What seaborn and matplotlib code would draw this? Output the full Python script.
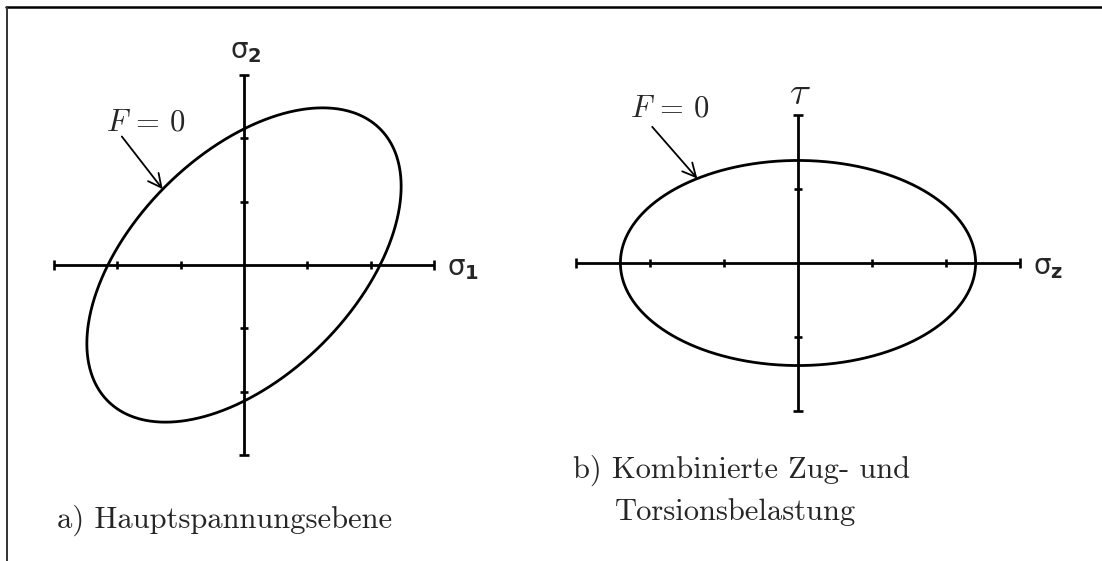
import numpy as np
import matplotlib
matplotlib.use("Agg")
import matplotlib.pyplot as plt
from matplotlib.lines import Line2D
import seaborn as sns

# Yield stress (in axis units) for the two von Mises sections
sigma_y_principal = 2.15      # sigma1^2 - sigma1*sigma2 + sigma2^2 = sY^2
sigma_y_tension = 2.40        # sigma^2 + 3*tau^2 = sY^2

# Axis extents and tick positions
a_xticks = [-2, -1, 1, 2]
a_yticks = [-2, -1, 1, 2]
a_xlim_axis = [-3, 3]
a_ylim_axis = [-3, 3]
b_xticks = [-2, -1, 1, 2]
b_yticks = [-1, 1]
b_xlim_axis = [-3, 3]
b_ylim_axis = [-2, 2]

# Labels
label_s1 = r"$\sigma_{\mathbf{1}}$"
label_s2 = r"$\sigma_{\mathbf{2}}$"
label_sz = r"$\sigma_{\mathbf{z}}$"
label_tau = r"$\tau$"
label_F = r"$F\,=\,0$"
caption_a = "a) Hauptspannungsebene"
caption_b1 = "b) Kombinierte Zug- und"
caption_b2 = "Torsionsbelastung"

sns.set_theme(style="white")
plt.rcParams["font.family"] = ["DejaVu Sans"]
plt.rcParams["mathtext.fontset"] = "custom"
plt.rcParams["mathtext.rm"] = "DejaVu Sans"
plt.rcParams["mathtext.it"] = "DejaVu Sans"
plt.rcParams["mathtext.bf"] = "DejaVu Sans:bold"

W, H = 1102, 561
fig = plt.figure(figsize=(W / 100, H / 100), dpi=100)
fig.patch.set_facecolor("white")


def make_axes(box, origin, unit):
    """Axes covering pixel box (x0, y0, x1, y1; y downward) with equal scaling."""
    x0, y0, x1, y1 = box
    ox, oy = origin
    ax = fig.add_axes([x0 / W, 1 - y1 / H, (x1 - x0) / W, (y1 - y0) / H])
    ax.set_xlim((x0 - ox) / unit, (x1 - ox) / unit)
    ax.set_ylim((oy - y1) / unit, (oy - y0) / unit)
    ax.set_axis_off()
    return ax


def draw_cross(ax, xlim, ylim, xticks, yticks):
    lw, mew = 2.0, 1.9
    ax.plot(xlim, [0, 0], color="black", lw=lw, solid_capstyle="butt")
    ax.plot([0, 0], ylim, color="black", lw=lw, solid_capstyle="butt")
    ax.plot(xticks, np.zeros(len(xticks)), ls="none", marker="|", ms=6, mew=mew, color="black")
    ax.plot(xlim, [0, 0], ls="none", marker="|", ms=7, mew=mew, color="black")
    ax.plot(np.zeros(len(yticks)), yticks, ls="none", marker="_", ms=6, mew=mew, color="black")
    ax.plot([0, 0], ylim, ls="none", marker="_", ms=7, mew=mew, color="black")


def on_curve(radius_fn, angle_deg):
    t = np.deg2rad(angle_deg)
    r = radius_fn(t)
    return r * np.cos(t), r * np.sin(t)


theta = np.linspace(0, 2 * np.pi, 721)

# ---------- a) principal stress plane ----------
ax_a = make_axes((20, 15, 530, 490), (244, 265), 63.3)
draw_cross(ax_a, a_xlim_axis, a_ylim_axis, a_xticks, a_yticks)


def r_principal(t):
    c, s = np.cos(t), np.sin(t)
    return sigma_y_principal / np.sqrt(c * c - c * s + s * s)


ra = r_principal(theta)
sns.lineplot(x=ra * np.cos(theta), y=ra * np.sin(theta), sort=False,
             estimator=None, color="black", lw=2.0, ax=ax_a)

ax_a.text(-0.22, 3.38, label_s2, fontsize=20, ha="left", va="center")
ax_a.text(3.21, -0.05, label_s1, fontsize=20, ha="left", va="center")
ax_a.text(-1.55, 2.26, label_F, fontsize=22, ha="center", va="center",
          math_fontfamily="cm")
tip_a = on_curve(r_principal, 137.0)
ax_a.annotate("", xy=tip_a, xytext=(-1.93, 2.03),
              arrowprops=dict(arrowstyle="->", color="black", lw=1.3,
                              mutation_scale=24, shrinkA=0, shrinkB=0))

# ---------- b) tension + torsion ----------
ax_b = make_axes((545, 15, 1095, 490), (798, 263), 74.0)
draw_cross(ax_b, b_xlim_axis, b_ylim_axis, b_xticks, b_yticks)


def r_tension(t):
    c, s = np.cos(t), np.sin(t)
    return sigma_y_tension / np.sqrt(c * c + 3 * s * s)


rb = r_tension(theta)
sns.lineplot(x=rb * np.cos(theta), y=rb * np.sin(theta), sort=False,
             estimator=None, color="black", lw=2.0, ax=ax_b)

ax_b.text(0.02, 2.30, label_tau, fontsize=28, ha="center", va="center",
          math_fontfamily="cm")
ax_b.text(3.18, -0.05, label_sz, fontsize=20, ha="left", va="center")
ax_b.text(-1.73, 2.10, label_F, fontsize=22, ha="center", va="center",
          math_fontfamily="cm")
tip_b = on_curve(r_tension, 140.0)
ax_b.annotate("", xy=tip_b, xytext=(-1.97, 1.84),
              arrowprops=dict(arrowstyle="->", color="black", lw=1.3,
                              mutation_scale=24, shrinkA=0, shrinkB=0))

# ---------- captions ----------
cap_kw = dict(fontsize=22, family="cmr10", ha="left", va="baseline")
fig.text(57 / W, 1 - 528 / H, caption_a, **cap_kw)
fig.text(573 / W, 1 - 478 / H, caption_b1, **cap_kw)
fig.text(615 / W, 1 - 520 / H, caption_b2, **cap_kw)

# ---------- frame (top and left rules) ----------
fig.add_artist(Line2D([6 / W, 1.0], [1 - 7 / H, 1 - 7 / H], color="black",
                      lw=1.8, transform=fig.transFigure))
fig.add_artist(Line2D([6.5 / W, 6.5 / W], [1 - 7 / H, 0.0], color="#333333",
                      lw=1.4, transform=fig.transFigure))

fig.savefig("out.png", dpi=100, facecolor="white")
